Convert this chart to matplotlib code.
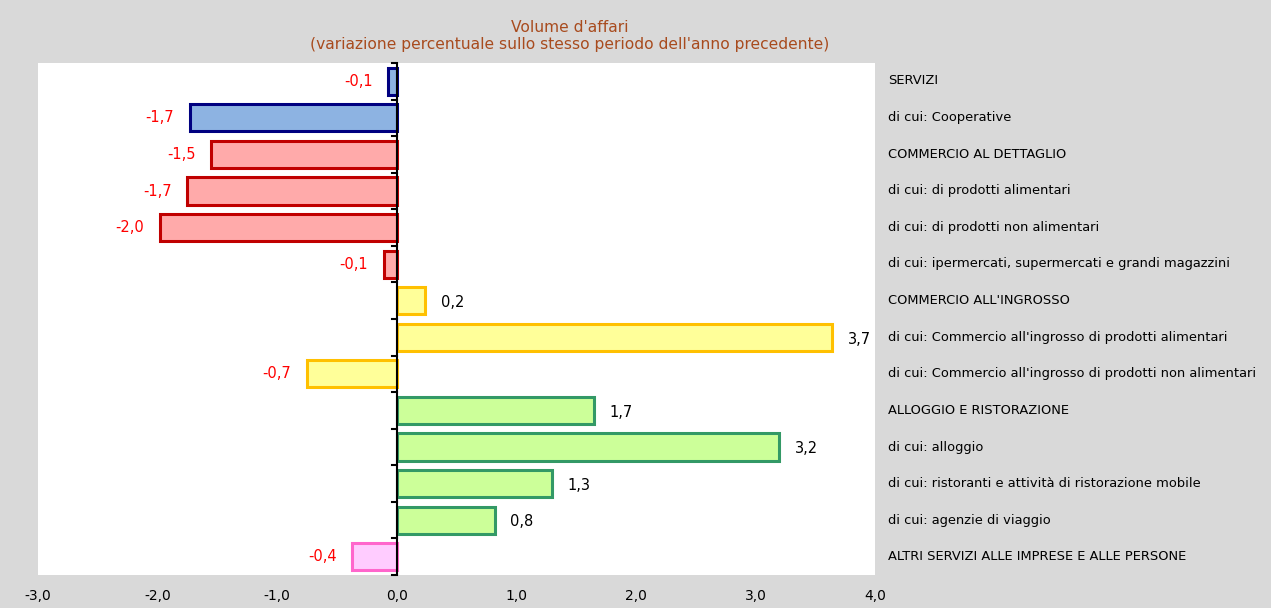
import numpy as np
import matplotlib
matplotlib.use("Agg")
import matplotlib.pyplot as plt

plt.rcParams['font.family'] = ['DejaVu Sans']

# -----------------------
# Data
# -----------------------
categories = [
    "SERVIZI",
    "di cui: Cooperative",
    "COMMERCIO AL DETTAGLIO",
    "di cui: di prodotti alimentari",
    "di cui: di prodotti non alimentari",
    "di cui: ipermercati, supermercati e grandi magazzini",
    "COMMERCIO ALL'INGROSSO",
    "di cui: Commercio all'ingrosso di prodotti alimentari",
    "di cui: Commercio all'ingrosso di prodotti non alimentari",
    "ALLOGGIO E RISTORAZIONE",
    "di cui: alloggio",
    "di cui: ristoranti e attività di ristorazione mobile",
    "di cui: agenzie di viaggio",
    "ALTRI SERVIZI ALLE IMPRESE E ALLE PERSONE",
]
values = [-0.07, -1.73, -1.55, -1.75, -1.98, -0.11, 0.24, 3.64, -0.75, 1.65, 3.2, 1.3, 0.82, -0.37]
value_labels = ["-0,1", "-1,7", "-1,5", "-1,7", "-2,0", "-0,1", "0,2", "3,7", "-0,7",
                "1,7", "3,2", "1,3", "0,8", "-0,4"]
face_colors = ["#8DB3E2", "#8DB3E2", "#FFAAAA", "#FFAAAA", "#FFAAAA", "#FFAAAA",
               "#FFFF99", "#FFFF99", "#FFFF99", "#CCFF99", "#CCFF99", "#CCFF99", "#CCFF99",
               "#FFCCFF"]
edge_colors = ["#000080", "#000080", "#C00000", "#C00000", "#C00000", "#C00000",
               "#FFC000", "#FFC000", "#FFC000", "#339966", "#339966", "#339966", "#339966",
               "#FF66CC"]
xticks = [-3, -2, -1, 0, 1, 2, 3, 4]
xtick_labels = ["-3,0", "-2,0", "-1,0", "0,0", "1,0", "2,0", "3,0", "4,0"]

# -----------------------
# Figure
# -----------------------
W, H = 1271, 608
fig = plt.figure(figsize=(W / 100, H / 100), dpi=100, facecolor="#D9D9D9")
ax = fig.add_axes([38 / W, 1 - 575 / H, (875 - 38) / W, (575 - 63) / H])
ax.set_facecolor("white")

n = len(categories)
y = np.arange(n)
ax.barh(y, values, height=0.74, color=face_colors, edgecolor=edge_colors, linewidth=2.2)
ax.set_ylim(n - 0.5, -0.5)
ax.set_xlim(-3, 4)

for s in ax.spines.values():
    s.set_visible(False)
ax.axvline(0, color="black", lw=1.5, zorder=5)
# y ticks at band boundaries, left of zero axis
for b in np.arange(-0.5, n, 1.0):
    ax.plot([-0.04, 0], [b, b], color="black", lw=1.5, zorder=5, clip_on=False)
ax.set_yticks([])
ax.set_xticks(xticks)
ax.set_xticklabels(xtick_labels, fontsize=10)
ax.tick_params(axis="x", length=0, pad=10)

# value labels
for i, (v, lab) in enumerate(zip(values, value_labels)):
    if v < 0:
        ax.text(v - 0.13, i, lab, color="#FF0000", ha="right", va="center", fontsize=10.5)
    else:
        ax.text(v + 0.13, i + 0.05, lab, color="black", ha="left", va="center", fontsize=10.5)

# category labels on the right
for i, c in enumerate(categories):
    fig.text(888 / W, 1 - (81 + i * 36.6) / H, c, ha="left", va="center", fontsize=9.35)

fig.text(570 / W, 1 - 28 / H, "Volume d'affari", ha="center", va="center",
         fontsize=11.2, color="#A84B1E")
fig.text(570 / W, 1 - 45 / H,
         "(variazione percentuale sullo stesso periodo dell'anno precedente)",
         ha="center", va="center", fontsize=11.2, color="#A84B1E")

fig.savefig("out.png", dpi=100, facecolor=fig.get_facecolor())
